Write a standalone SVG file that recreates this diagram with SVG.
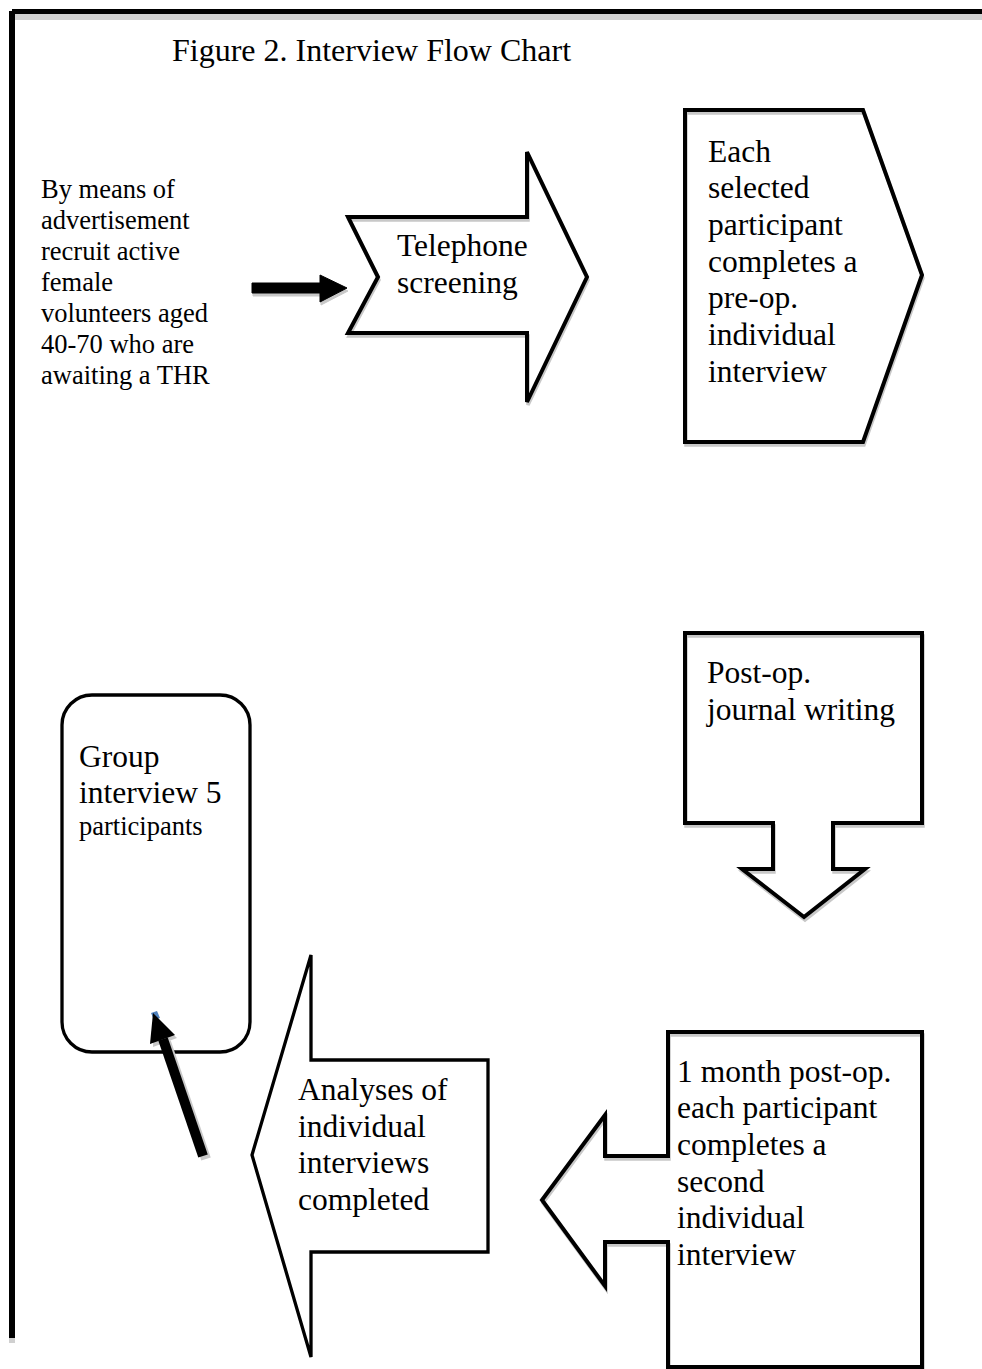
<svg xmlns="http://www.w3.org/2000/svg" width="982" height="1369" viewBox="0 0 982 1369">
<style>
text{font-family:"Liberation Serif","Times New Roman",serif;fill:#000}
.t32{font-size:32px}
.t31{font-size:31.5px}
.t26{font-size:26.5px}
.shape{fill:none;stroke:#000;stroke-width:4;stroke-linejoin:miter}
.thin{stroke-width:3.3}
.shadow{fill:none;stroke:#c8c8c8;stroke-width:3.5}
.ashadow{fill:#c8c8c8;stroke:#c8c8c8}
.arrow{fill:#000;stroke:#000}
</style>
<defs>
<path id="pEach" d="M685,110 L863,110 L922,275 L863,442 L685,442 Z"/>
<path id="pTel" d="M348,217 L527,217 L527,152 L587,277 L527,402 L527,333 L348,333 L378,277 Z"/>
<path id="pPost" d="M685,633 L922,633 L922,823 L833,823 L833,869 L865,869 L804,917 L742,869 L773,869 L773,823 L685,823 Z"/>
<path id="pMonth" d="M668,1032 L922,1032 L922,1367 L668,1367 L668,1242 L605,1242 L605,1286 L542,1200 L605,1115 L605,1156 L668,1156 Z"/>
<path id="aRight" d="M252,283 L320,283 L320,275 L347,288 L320,302 L320,293 L252,293 Z"/>
</defs>

<g id="border">
<rect x="12" y="14" width="970" height="6" fill="#d0d0d0"/>
<rect x="9" y="1338" width="6" height="5" fill="#d0d0d0"/>
<rect x="12" y="9" width="970" height="5" fill="#000"/>
<rect x="9" y="11" width="6" height="1327" fill="#000"/>
</g>

<g id="title">
<text class="t32" x="172" y="61">Figure 2. Interview Flow Chart</text>
</g>

<g id="recruit">
<text class="t26" x="41" y="198">By means of</text>
<text class="t26" x="41" y="229">advertisement</text>
<text class="t26" x="41" y="260">recruit active</text>
<text class="t26" x="41" y="291">female</text>
<text class="t26" x="41" y="322">volunteers aged</text>
<text class="t26" x="41" y="353">40-70 who are</text>
<text class="t26" x="41" y="384">awaiting a THR</text>
</g>

<g id="telephone">
<use href="#pTel" class="shadow" transform="translate(1,3)"/>
<use href="#pTel" class="shape"/>
<text class="t31" x="397" y="256">Telephone</text>
<text class="t31" x="397" y="293">screening</text>
</g>

<g id="preop">
<use href="#pEach" class="shadow" transform="translate(1,3)"/>
<use href="#pEach" class="shape"/>
<text class="t31" x="708" y="162">Each</text>
<text class="t31" x="708" y="198">selected</text>
<text class="t31" x="708" y="235">participant</text>
<text class="t31" x="708" y="272">completes a</text>
<text class="t31" x="708" y="308">pre-op.</text>
<text class="t31" x="708" y="345">individual</text>
<text class="t31" x="708" y="382">interview</text>
</g>

<g id="journal">
<use href="#pPost" class="shadow" transform="translate(1,3)"/>
<use href="#pPost" class="shape"/>
<text class="t31" x="707" y="683">Post-op.</text>
<text class="t31" x="707" y="720">journal writing</text>
</g>

<g id="second-interview">
<use href="#pMonth" class="shadow" transform="translate(1,3)"/>
<use href="#pMonth" class="shape"/>
<text class="t31" x="677" y="1082">1 month post-op.</text>
<text class="t31" x="677" y="1118">each participant</text>
<text class="t31" x="677" y="1155">completes a</text>
<text class="t31" x="677" y="1192">second</text>
<text class="t31" x="677" y="1228">individual</text>
<text class="t31" x="677" y="1265">interview</text>
</g>

<g id="analyses">
<path class="shape thin" d="M311,955 L311,1060 L488,1060 L488,1252 L311,1252 L311,1357 L252,1155 Z"/>
<text class="t31" x="298" y="1100">Analyses of</text>
<text class="t31" x="298" y="1137">individual</text>
<text class="t31" x="298" y="1173">interviews</text>
<text class="t31" x="298" y="1210">completed</text>
</g>

<g id="group-interview">
<rect class="shape thin" x="62" y="695" width="188" height="357" rx="30" ry="30"/>
<text class="t31" x="79" y="767">Group</text>
<text class="t31" x="79" y="803">interview 5</text>
<text class="t26" x="79" y="835">participants</text>
</g>

<g id="connectors">
<g id="conn-recruit-telephone">
<use href="#aRight" class="ashadow" transform="translate(1,3)"/>
<use href="#aRight" class="arrow"/>
</g>
<g id="conn-analyses-group">
<polygon points="151,1013 157,1011 160,1018 154,1020" fill="#4f81bd"/>
<line x1="206" y1="1159" x2="166" y2="1042" stroke="#c8c8c8" stroke-width="10"/>
<polygon points="154,1016 177,1038 153,1047" fill="#c8c8c8"/>
<line x1="203" y1="1156" x2="163" y2="1039" stroke="#000" stroke-width="10"/>
<polygon points="153,1013 175,1035 150,1044" fill="#000"/>
</g>
</g>
</svg>
